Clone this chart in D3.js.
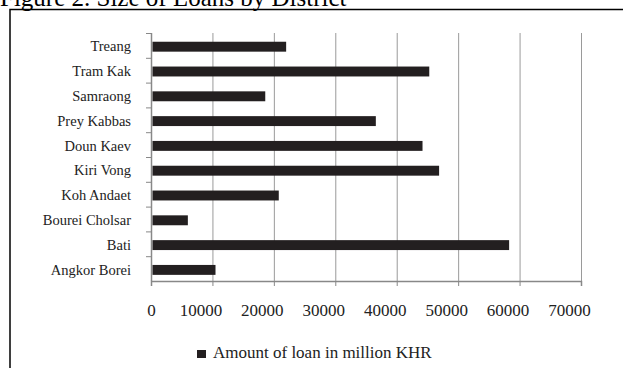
<!DOCTYPE html>
<html>
<head>
<meta charset="utf-8">
<script src="https://cdn.jsdelivr.net/npm/d3@7"></script>
<style>
  body { margin: 0; background: #fff; }
  svg { display: block; font-family: "Liberation Serif", "Times New Roman", serif; }
</style>
</head>
<body>
<svg width="623" height="368"></svg>
<script>
// districts, top to bottom as shown
const districts = ['Treang', 'Tram Kak', 'Samraong', 'Prey Kabbas', 'Doun Kaev',
    'Kiri Vong', 'Koh Andaet', 'Bourei Cholsar', 'Bati', 'Angkor Borei'];
const loans = [22000, 45300, 18600, 36600, 44200, 46900, 20800, 6000, 58300, 10500];
const xTicks = [0, 10000, 20000, 30000, 40000, 50000, 60000, 70000];
const seriesName = 'Amount of loan in million KHR';
const title = 'Figure 2. Size of Loans by District';

const data = districts.map((d, i) => ({name: d, value: loans[i]}));

const margin = {top: 33, left: 151, bottom: 87, right: 42};
const width = 623;
const height = 368;

const svg = d3.select('svg');

// title, cut off at the top of the picture like the scan
svg.append('text')
    .attr('x', 0)
    .attr('y', 6)
    .attr('font-size', 25)
    .attr('fill', '#000')
    .text(title);

// chart frame
svg.append('rect')
    .attr('x', 10)
    .attr('y', 9.5)
    .attr('width', 640)
    .attr('height', 400)
    .attr('fill', 'none')
    .attr('stroke', '#000')
    .attr('stroke-width', 1.5);

const xScale = d3.scaleLinear()
    .domain([0, 70000])
    .range([margin.left, width - margin.right]);

const yScale = d3.scaleBand()
    .domain(districts)
    .range([margin.top, height - margin.bottom])
    .paddingInner(0.6)
    .paddingOuter(0.3);

const step = yScale.step();
const bandTop = d => yScale(d) - yScale.paddingOuter() * step;
const yBottom = height - margin.bottom;

// gridlines
svg.append('g')
    .selectAll('line')
    .data(xTicks.slice(1))
    .join('line')
    .attr('x1', d => xScale(d) + 0.5)
    .attr('x2', d => xScale(d) + 0.5)
    .attr('y1', margin.top)
    .attr('y2', yBottom)
    .attr('stroke', '#9a9a9a')
    .attr('stroke-width', 1);

// x-axis
const xAxis = svg.append('g')
    .attr('transform', `translate(0, ${yBottom})`)
    .call(d3.axisBottom(xScale).tickValues(xTicks).tickFormat(d3.format('d')).tickSize(5));
xAxis.select('.domain').attr('stroke', '#888').attr('stroke-width', 1.5);
xAxis.selectAll('.tick line').attr('stroke', '#888');
// the scanned labels sit a little left of their ticks
xAxis.selectAll('.tick text')
    .attr('y', 35)
    .attr('dy', null)
    .attr('dx', d => d === 0 ? 0 : -12)
    .attr('font-family', '"Liberation Serif", serif')
    .attr('font-size', 17)
    .attr('fill', '#222');

// y-axis line with ticks at band edges
svg.append('line')
    .attr('x1', margin.left + 0.5)
    .attr('x2', margin.left + 0.5)
    .attr('y1', margin.top)
    .attr('y2', yBottom)
    .attr('stroke', '#888')
    .attr('stroke-width', 1.5);

svg.append('g')
    .selectAll('line')
    .data(districts)
    .join('line')
    .attr('x1', margin.left - 5)
    .attr('x2', margin.left)
    .attr('y1', d => bandTop(d) + 0.5)
    .attr('y2', d => bandTop(d) + 0.5)
    .attr('stroke', '#888');

// category labels
svg.append('g')
    .selectAll('text')
    .data(districts)
    .join('text')
    .attr('x', margin.left - 20)
    .attr('y', d => yScale(d) + yScale.bandwidth() / 2 + 1)
    .attr('dy', '0.35em')
    .attr('text-anchor', 'end')
    .attr('font-size', 14.5)
    .attr('fill', '#222')
    .text(d => d);

// bars
svg.append('g')
    .selectAll('rect')
    .data(data)
    .join('rect')
    .attr('x', xScale(0) + 1.5)
    .attr('y', d => yScale(d.name) + 1.3)
    .attr('width', d => xScale(d.value) - xScale(0) - 1.5)
    .attr('height', yScale.bandwidth())
    .attr('fill', '#231f20');

// legend
const legend = svg.append('g').attr('transform', 'translate(197, 358)');
legend.append('rect')
    .attr('x', 0)
    .attr('y', -8)
    .attr('width', 9)
    .attr('height', 8)
    .attr('fill', '#231f20');
legend.append('text')
    .attr('x', 16)
    .attr('y', 0)
    .attr('font-size', 17)
    .attr('fill', '#222')
    .text(seriesName);
</script>
</body>
</html>
